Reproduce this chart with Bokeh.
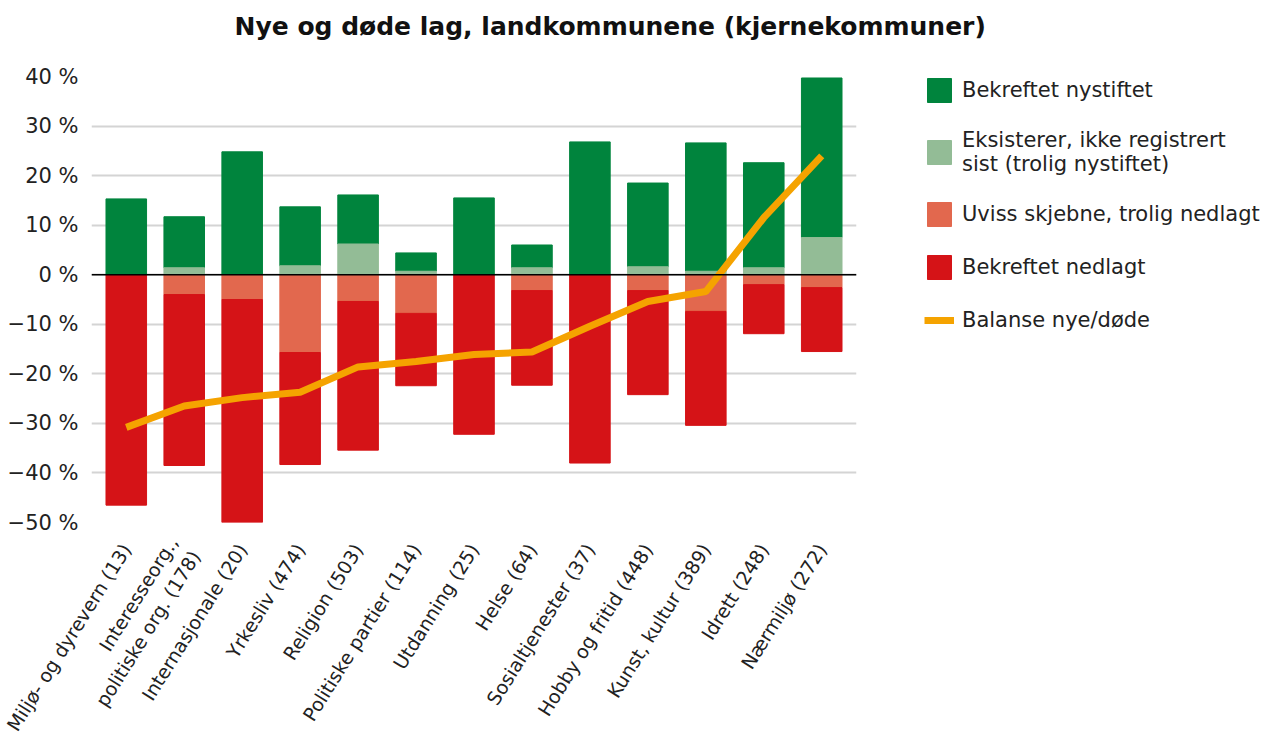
import math
from bokeh.plotting import figure
from bokeh.models import (ColumnDataSource, FactorRange, FixedTicker, Legend,
                          LegendItem, Span, Title)
from bokeh.embed import file_html
from bokeh.resources import INLINE

categories = ["Miljø- og dyrevern (13)", "Interesseorg.,\npolitiske org. (178)",
              "Internasjonale (20)", "Yrkesliv (474)", "Religion (503)",
              "Politiske partier (114)", "Utdanning (25)", "Helse (64)",
              "Sosialtjenester (37)", "Hobby og fritid (448)", "Kunst, kultur (389)",
              "Idrett (248)", "Nærmiljø (272)"]

# values in percent
exist_unreg = [0.0, 1.4, 0.0, 1.8, 6.2, 0.7, 0.0, 1.4, 0.0, 1.6, 0.7, 1.4, 7.5]
confirmed_new_top = [15.3, 11.7, 24.8, 13.7, 16.1, 4.4, 15.5, 6.0, 26.8, 18.5, 26.6, 22.6, 39.7]
uncertain = [0.0, -4.0, -5.0, -15.7, -5.4, -7.8, 0.0, -3.2, 0.0, -3.2, -7.4, -2.0, -2.6]
confirmed_dead_bottom = [-46.5, -38.5, -50.0, -38.3, -35.4, -22.4, -32.2, -22.3, -38.0, -24.2, -30.4, -11.9, -15.5]
balance = [-30.8, -26.5, -24.8, -23.7, -18.6, -17.5, -16.1, -15.6, -10.4, -5.4, -3.4, 11.5, 24.0]

y_ticks = [40, 30, 20, 10, 0, -10, -20, -30, -40, -50]

C_NEW = "#00843D"
C_EXIST = "#93BC96"
C_UNC = "#E2684E"
C_DEAD = "#D51317"
C_LINE = "#F5A300"
FONT = "DejaVu Sans"

src = ColumnDataSource(dict(
    cat=categories,
    zero=[0.0] * len(categories),
    exist=exist_unreg,
    new_top=confirmed_new_top,
    unc=uncertain,
    dead=confirmed_dead_bottom,
    bal=balance,
))

p = figure(frame_width=765, frame_height=446,
           x_range=FactorRange(*categories, range_padding=0.1,
                               range_padding_units="absolute"),
           y_range=(-50, 40), output_backend="svg", toolbar_location=None,
           min_border_left=91, min_border_right=63, min_border_top=76,
           min_border_bottom=215)

r_new = p.vbar(x="cat", bottom="exist", top="new_top", width=0.7, color=C_NEW, source=src)
r_exist = p.vbar(x="cat", bottom="zero", top="exist", width=0.7, color=C_EXIST, source=src)
r_unc = p.vbar(x="cat", bottom="unc", top="zero", width=0.7, color=C_UNC, source=src)
r_dead = p.vbar(x="cat", bottom="dead", top="unc", width=0.7, color=C_DEAD, source=src)
r_line = p.line(x="cat", y="bal", line_width=7, color=C_LINE, source=src)

p.add_layout(Span(location=0, dimension="width", line_color="#000000", line_width=1.5))

p.outline_line_color = None
p.xgrid.grid_line_color = None
p.ygrid.grid_line_color = "#d4d4d4"
p.ygrid.grid_line_width = 2
p.yaxis.ticker = FixedTicker(ticks=y_ticks)
p.yaxis.major_label_overrides = {t: (f"{t} %".replace("-", "\u2212")) for t in y_ticks}
p.yaxis.axis_line_color = None
p.yaxis.major_tick_line_color = None
p.yaxis.minor_tick_line_color = None
p.yaxis.major_label_text_font = FONT
p.yaxis.major_label_text_font_size = "21px"
p.yaxis.major_label_text_color = "#222222"
p.yaxis.major_label_standoff = 7

p.xaxis.axis_line_color = None
p.xaxis.major_tick_line_color = None
p.xaxis.major_label_orientation = math.radians(58)
p.xaxis.major_label_text_font = FONT
p.xaxis.major_label_text_font_size = "19px"
p.xaxis.major_label_text_color = "#222222"
p.xaxis.major_label_standoff = 17

legend = Legend(items=[
    LegendItem(label="Bekreftet nystiftet", renderers=[r_new]),
    LegendItem(label="Eksisterer, ikke registrert\nsist (trolig nystiftet)", renderers=[r_exist]),
    LegendItem(label="Uviss skjebne, trolig nedlagt", renderers=[r_unc]),
    LegendItem(label="Bekreftet nedlagt", renderers=[r_dead]),
    LegendItem(label="Balanse nye/døde", renderers=[r_line]),
], location=(68, 187), border_line_color=None, background_fill_alpha=0,
    label_text_font=FONT, label_text_font_size="21px", label_text_color="#222222",
    glyph_width=30, glyph_height=30, spacing=23, label_standoff=8, margin=0,
    padding=0)
p.add_layout(legend, "right")

# spacer between frame and title (added first, so it sits nearest the frame)
spacer = Title(text=" ", text_font_size="10px", standoff=23, text_color="#ffffff")
p.add_layout(spacer, "above")
title = Title(text="Nye og døde lag, landkommunene (kjernekommuner)", align="left",
              offset=143, text_font=FONT, text_font_size="25px", text_font_style="bold",
              text_color="#111111", standoff=0)
p.add_layout(title, "above")

open("out.html", "w").write(file_html(p, INLINE))
